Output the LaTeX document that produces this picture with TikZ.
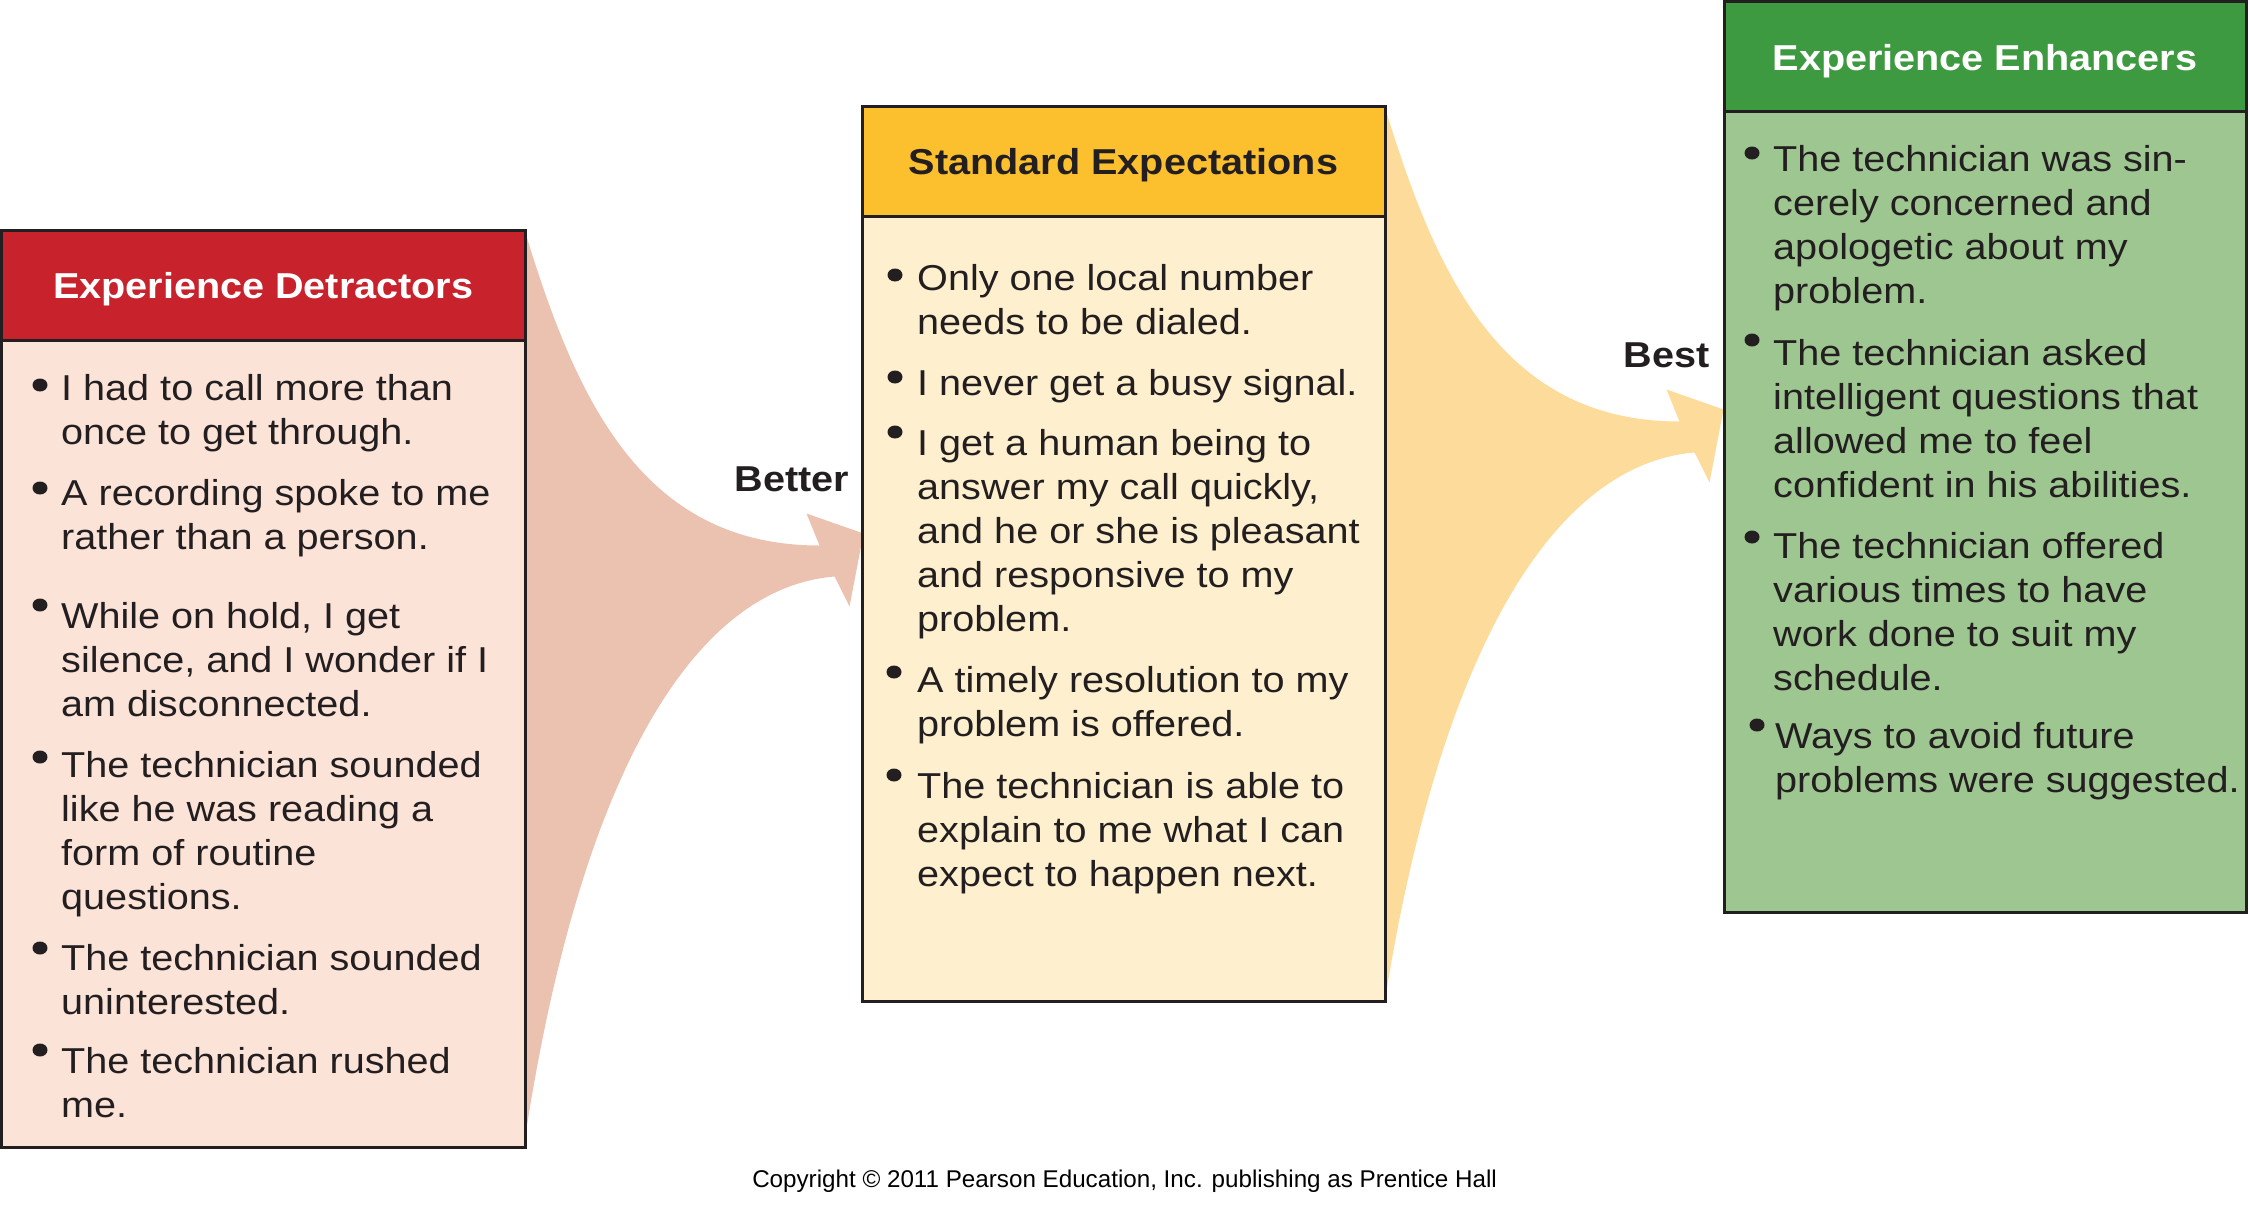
\documentclass[tikz,border=0pt]{standalone}
\usepackage{fontspec}
\setmainfont{Liberation Sans}[FakeStretch=1.1]
\newfontfamily\creditfont{Liberation Sans}
\usetikzlibrary{backgrounds}

\definecolor{ink}{HTML}{231F20}
\definecolor{headred}{HTML}{C8222C}
\definecolor{bodypink}{HTML}{FCE3D8}
\definecolor{arrowpink}{HTML}{EBC1AF}
\definecolor{headgold}{HTML}{FCC02F}
\definecolor{bodycream}{HTML}{FEF0CE}
\definecolor{arrowgold}{HTML}{FDDB9A}
\definecolor{headgreen}{HTML}{3E9A40}
\definecolor{bodygreen}{HTML}{9EC690}

\newcommand\bodyfont{\fontsize{36}{44}\selectfont}
\newcommand\headfont{\fontsize{36}{44}\selectfont\bfseries}
\newcommand\itemtext[1]{\parbox[t]{600pt}{#1}}

\tikzset{
  panel/.style={rectangle, draw=ink, line width=3pt, inner sep=0pt},
  panelhead/.style={panel, minimum height=110pt, font=\headfont,
    text height=27pt, text depth=0pt},
  item/.style={anchor=base west, inner sep=0pt, text=ink, font=\bodyfont},
  tag/.style={anchor=base, inner sep=0pt, text=ink, font=\headfont},
  dot/.style={fill=ink},
  % widening arrow that leaves the right side of a panel; #1 = height of its lower end
  flowarrow/.pic={
    \fill[pic actions] (0,8) .. controls (50,170) and (115,317) .. (293,317)
      -- (280,285) -- (337,305) -- (323,378) -- (308,348)
      .. controls (165,360) and (55,550) .. (0,#1) -- cycle;
  }
}

\begin{document}
\begin{tikzpicture}[x=1pt,y=-1pt]
\useasboundingbox (0,0) rectangle (2250,1213);

% ---- panels ----
\node[panel, fill=bodypink, minimum width=523.5pt, minimum height=917pt] (detr) at (263.25,688.5) {};
\node[panelhead, fill=headred, text=white, minimum width=523.5pt, anchor=north] (detrhead) at (detr.north) {Experience Detractors};

\node[panel, fill=bodycream, minimum width=523pt, minimum height=895pt] (std) at (1123.5,553.5) {};
\node[panelhead, fill=headgold, text=ink, minimum width=523pt, anchor=north] (stdhead) at (std.north) {Standard Expectations};

\node[panel, fill=bodygreen, minimum width=522pt, minimum height=910.5pt] (enh) at (1985,456.75) {};
\node[panelhead, fill=headgreen, text=white, minimum width=522pt, anchor=north] (enhhead) at (enh.north) {Experience Enhancers};

% ---- arrows between panels ----
\begin{pgfonlayer}{background}
  \pic[fill=arrowpink] at (detr.north east) {flowarrow=900};
  \pic[fill=arrowgold] at (std.north east) {flowarrow=886};
\end{pgfonlayer}

\node[tag] (better) at (791.7,491) {Better};
\node[tag] (best) at (1666.7,367) {Best};

% ---- detractors ----
\fill[dot] (40,385) ellipse (7.5 and 6.5);
\node[item] (d1) at (61,400) {\itemtext{I had to call more than\\once to get through.}};
\fill[dot] (40,488) ellipse (7.5 and 6.5);
\node[item] (d2) at (61,505) {\itemtext{A recording spoke to me\\rather than a person.}};
\fill[dot] (40,605) ellipse (7.5 and 6.5);
\node[item] (d3) at (61,628.5) {\itemtext{While on hold, I get\\silence, and I wonder if I\\am disconnected.}};
\fill[dot] (40,757) ellipse (7.5 and 6.5);
\node[item] (d4) at (61,777) {\itemtext{The technician sounded\\like he was reading a\\form of routine\\questions.}};
\fill[dot] (40,948) ellipse (7.5 and 6.5);
\node[item] (d5) at (61,970) {\itemtext{The technician sounded\\uninterested.}};
\fill[dot] (40,1050) ellipse (7.5 and 6.5);
\node[item] (d6) at (61,1073) {\itemtext{The technician rushed\\me.}};

% ---- standard expectations ----
\fill[dot] (895,275) ellipse (7.5 and 6.5);
\node[item] (s1) at (917,290) {\itemtext{Only one local number\\needs to be dialed.}};
\fill[dot] (895,377) ellipse (7.5 and 6.5);
\node[item] (s2) at (917,395) {\itemtext{I never get a busy signal.}};
\fill[dot] (895,432) ellipse (7.5 and 6.5);
\node[item] (s3) at (917,455) {\itemtext{I get a human being to\\answer my call quickly,\\and he or she is pleasant\\and responsive to my\\problem.}};
\fill[dot] (894,672) ellipse (7.5 and 6.5);
\node[item] (s4) at (917,692) {\itemtext{A timely resolution to my\\problem is offered.}};
\fill[dot] (894,775) ellipse (7.5 and 6.5);
\node[item] (s5) at (917,798) {\itemtext{The technician is able to\\explain to me what I can\\expect to happen next.}};

% ---- enhancers ----
\fill[dot] (1752,153) ellipse (7.5 and 6.5);
\node[item] (e1) at (1773,171.7) {\itemtext{The technician was sin-\\cerely concerned and\\apologetic about my\\problem.}};
\fill[dot] (1752,340) ellipse (7.5 and 6.5);
\node[item] (e2) at (1773,365) {\itemtext{The technician asked\\intelligent questions that\\allowed me to feel\\confident in his abilities.}};
\fill[dot] (1752,537) ellipse (7.5 and 6.5);
\node[item] (e3) at (1773,558.3) {\itemtext{The technician offered\\various times to have\\work done to suit my\\schedule.}};
\fill[dot] (1757,725) ellipse (7.5 and 6.5);
\node[item] (e4) at (1775,748.3) {\itemtext{Ways to avoid future\\problems were suggested.}};

% ---- credit line ----
\node[anchor=base, inner sep=0pt, text=black, font=\creditfont\fontsize{24.2}{29}\selectfont] (credit) at (1124.6,1187) {Copyright © 2011 Pearson Education, Inc. publishing as Prentice Hall};
\end{tikzpicture}
\end{document}
